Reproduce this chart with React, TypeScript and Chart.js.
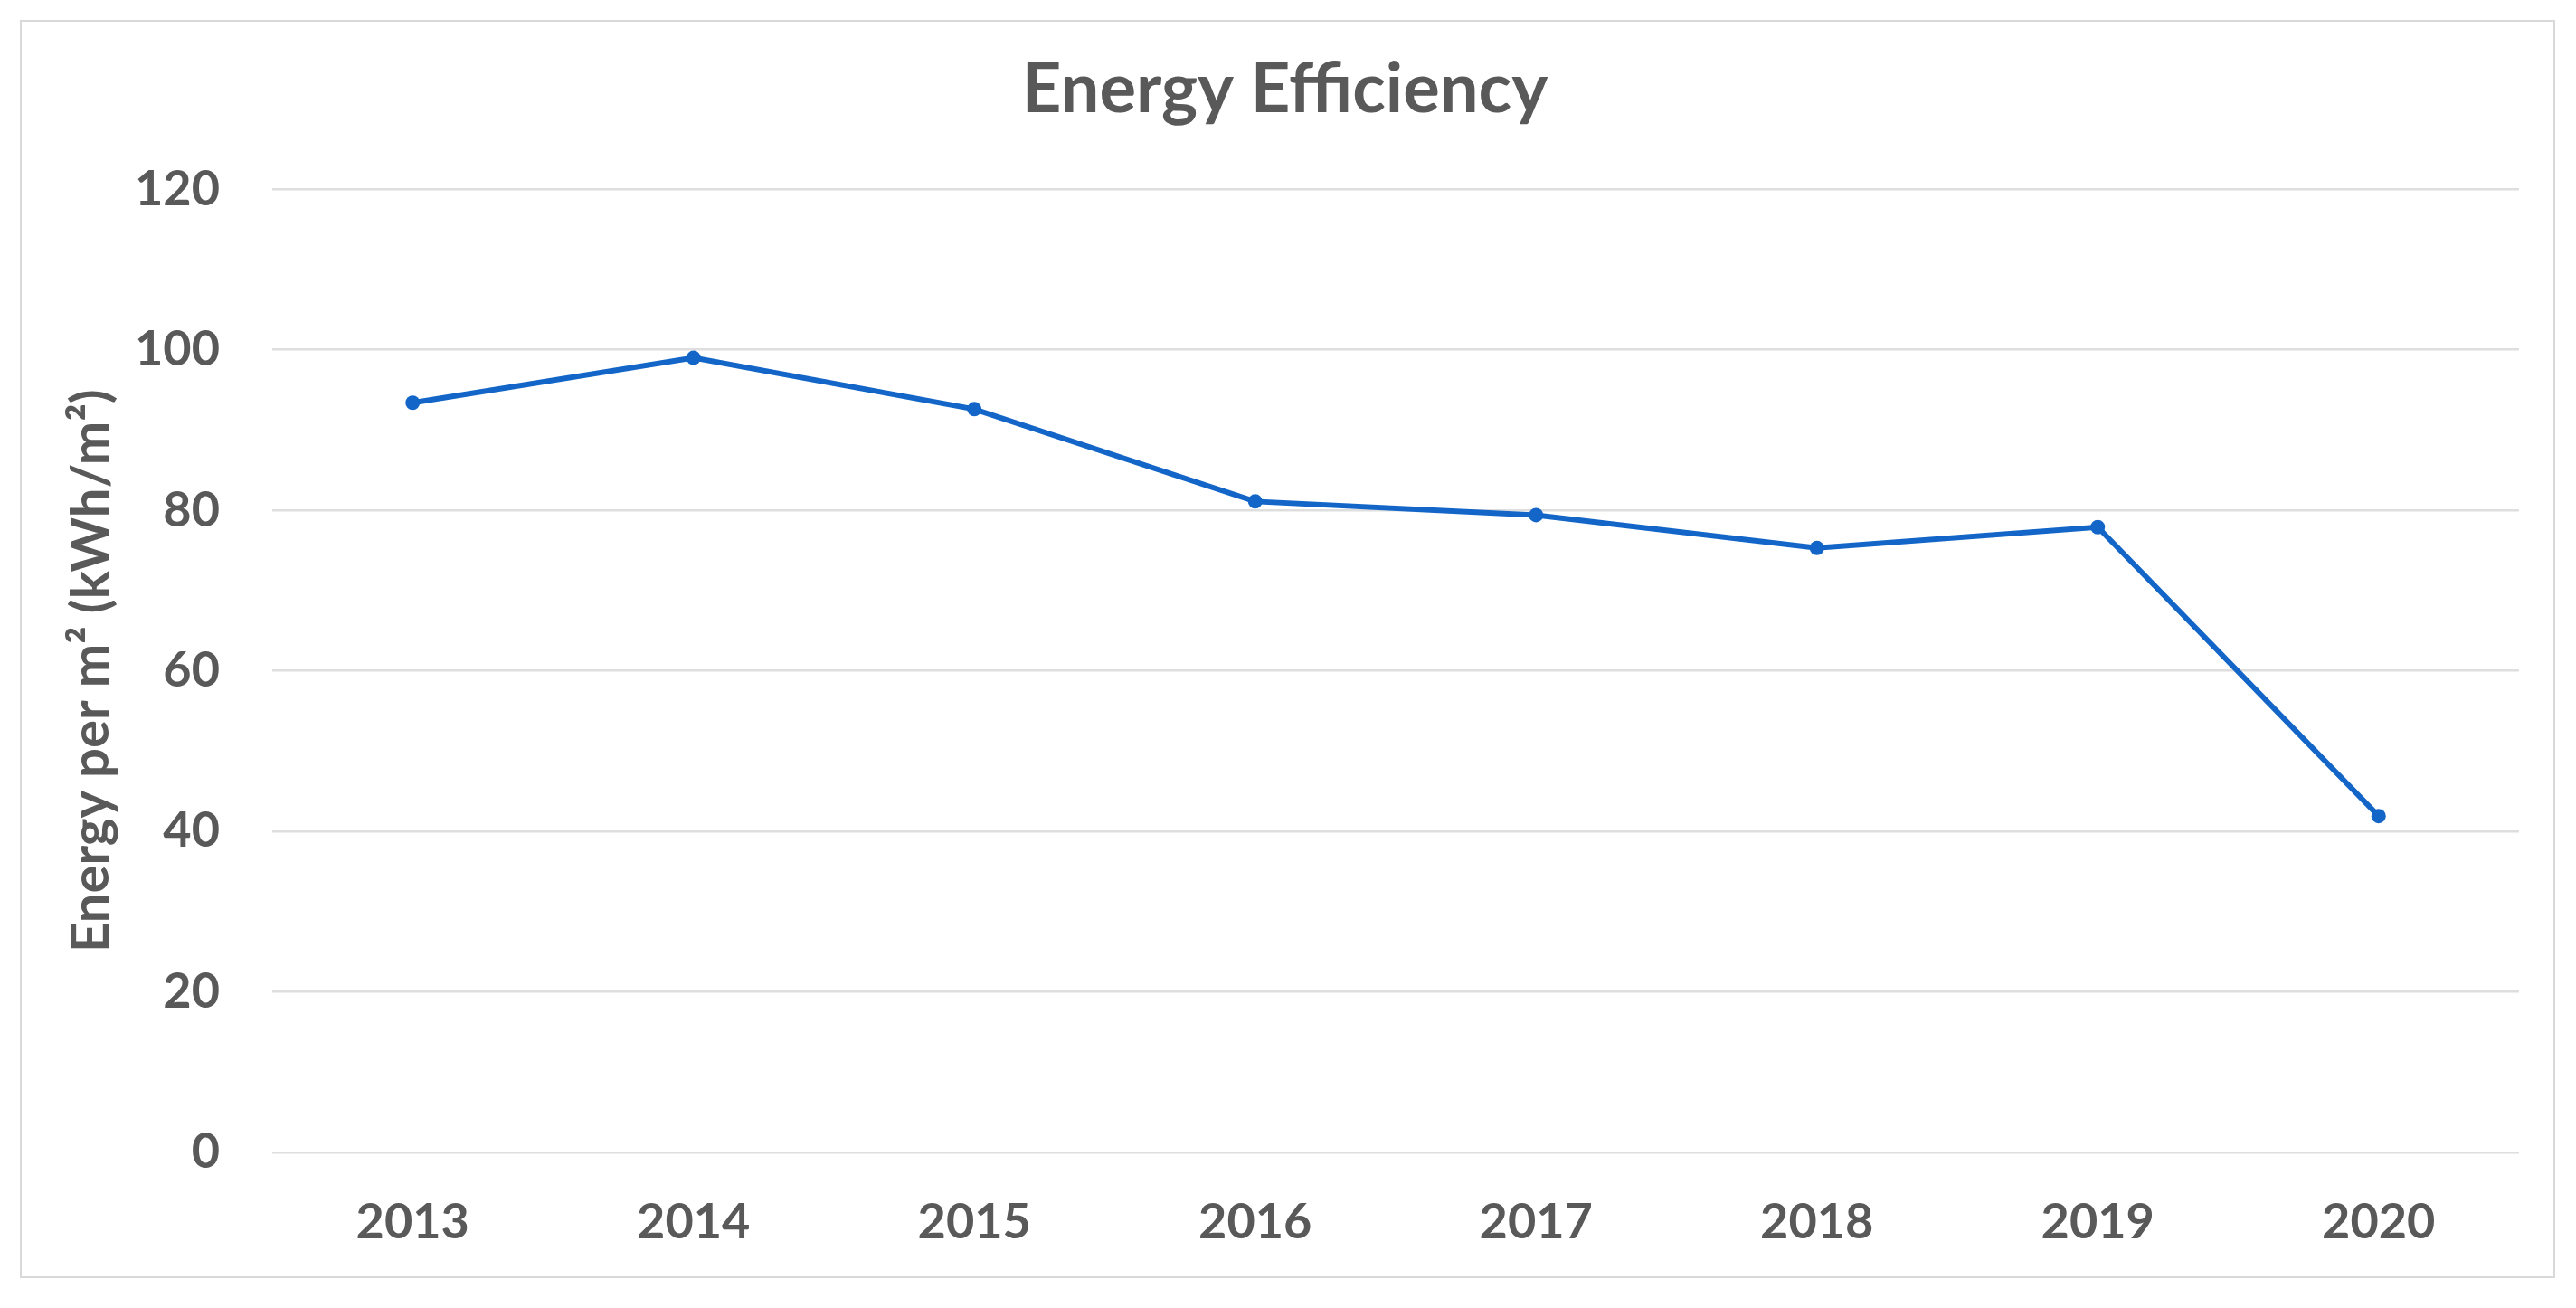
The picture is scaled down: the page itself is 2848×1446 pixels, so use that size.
import React, { useEffect, useRef } from "react";
import { Chart, registerables } from "chart.js";

Chart.register(...registerables);

const years = ["2013", "2014", "2015", "2016", "2017", "2018", "2019", "2020"];
const energyPerM2 = [93.4, 99.0, 92.6, 81.1, 79.4, 75.3, 77.9, 41.9];
const yMin = 0;
const yMax = 120;
const yStep = 20;
const chartTitle = "Energy Efficiency";
const yAxisTitle = "Energy per m² (kWh/m²)";

const W = 2848;
const H = 1446;
const FONT = "Lato, 'Open Sans', 'DejaVu Sans', sans-serif";
const TEXT = "#595959";
const GRID = "#dedede";
const LINE = "#1366c8";

export default function App() {
  const ref = useRef<HTMLCanvasElement | null>(null);

  useEffect(() => {
    if (!ref.current) return;
    const chart = new Chart(ref.current, {
      type: "line",
      data: {
        labels: years,
        datasets: [
          {
            label: "Energy",
            data: energyPerM2,
            borderColor: LINE,
            backgroundColor: LINE,
            borderWidth: 6,
            pointRadius: 8,
            pointBorderWidth: 0,
            pointBackgroundColor: LINE,
            tension: 0,
          },
        ],
      },
      options: {
        responsive: false,
        animation: false,
        devicePixelRatio: 1,
        layout: { padding: { left: 56, right: 63, top: 0, bottom: 62 } },
        plugins: {
          legend: { display: false },
          tooltip: { enabled: false },
          title: {
            display: true,
            text: chartTitle,
            color: TEXT,
            font: { family: FONT, size: 76, weight: "bold" },
            padding: { top: 54, bottom: 64 },
          },
        },
        scales: {
          x: {
            offset: true,
            grid: { display: false, drawTicks: false },
            border: { display: false },
            ticks: {
              color: TEXT,
              font: { family: FONT, size: 54, weight: "bold" },
              padding: 45,
              maxRotation: 0,
            },
            afterFit: (s: any) => {
              s.height = 110;
            },
          },
          y: {
            min: yMin,
            max: yMax,
            grid: { color: GRID, lineWidth: 2.5, drawTicks: false },
            border: { display: false },
            ticks: {
              stepSize: yStep,
              color: TEXT,
              font: { family: FONT, size: 54, weight: "bold" },
              padding: 58,
            },
            title: {
              display: true,
              text: yAxisTitle,
              color: TEXT,
              font: { family: FONT, size: 58, weight: "bold" },
              padding: { top: 10, bottom: 0 },
            },
            afterFit: (s: any) => {
              s.width = 245;
            },
          },
        },
      },
    });
    return () => chart.destroy();
  }, []);

  return (
    <div
      style={{
        position: "fixed",
        left: 0,
        top: 0,
        width: W,
        height: H,
        background: "#ffffff",
      }}
    >
      <div
        style={{
          position: "absolute",
          left: 22,
          top: 22,
          width: 2803,
          height: 1391,
          border: "2px solid #d9d9d9",
          boxSizing: "border-box",
        }}
      />
      <canvas
        ref={ref}
        width={W}
        height={H}
        style={{ position: "absolute", left: 0, top: 0, width: W, height: H, display: "block" }}
      />
    </div>
  );
}
